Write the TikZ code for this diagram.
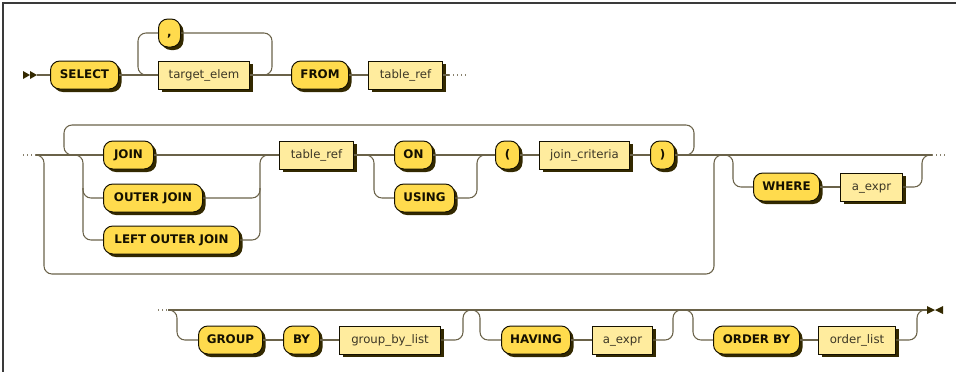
\documentclass[tikz,border=0pt]{standalone}
\usepackage{fontspec}
\setsansfont{DejaVu Sans}
\usetikzlibrary{shadows}
\definecolor{termfill}{HTML}{FFDB4D}
\definecolor{ntfill}{HTML}{FFEC9E}
\definecolor{edgec}{HTML}{141000}
\definecolor{shadec}{HTML}{332900}
\definecolor{railc}{HTML}{6A6249}
\definecolor{ntextc}{HTML}{3C3726}
\definecolor{framec}{HTML}{3A3A3A}

\begin{document}
\begin{tikzpicture}[x=0.75pt,y=-0.75pt,
  box/.style={draw=edgec, line width=0.75pt, minimum height=21pt, inner sep=0pt,
    anchor=west, text height=6.5pt, text depth=1.8pt,
    drop shadow={shadow xshift=2.25pt, shadow yshift=-2.25pt, fill=shadec, opacity=1}},
  w/.style={minimum width=#1*0.75pt},
  term/.style={box, fill=termfill, rounded corners=7pt,
    font=\sffamily\bfseries\fontsize{8.9}{10}\selectfont, text=edgec},
  nt/.style={box, fill=ntfill, font=\sffamily\fontsize{8.8}{10}\selectfont, text=ntextc},
  railp/.style={draw=railc, line width=0.8pt, rounded corners=6pt},
  dotted rail/.style={draw=railc!80, line width=0.8pt, dash pattern=on 0.75pt off 2.25pt},
  endmark/.style={fill=shadec}
]
\useasboundingbox (0,0) rectangle (956,372);

% frame
\draw[framec, line width=1.1pt] (956,3) -- (3,3) -- (3,372);

% ---------- first line ----------
\node[term,w=68] (select) at (50,75) {SELECT};
\node[term,w=22] (comma) at (158,33) {,};
\node[nt,w=91] (target) at (158,75) {target\_elem};
\node[term,w=57] (from) at (291,75) {FROM};
\node[nt,w=74] (tref1) at (368,75) {table\_ref};

\coordinate (start) at (37,75);
\coordinate (out1) at (449,75);
\fill[endmark] (23,71) -- (30,75) -- (23,79) -- cycle;
\fill[endmark] (30,71) -- (37,75) -- (30,79) -- cycle;

\draw[railp] (start) -- (select.west);
\draw[railp] (select.east) -- (target.west);
\draw[railp] (target.east) -- (from.west);
\draw[railp] (from.east) -- (tref1.west);
\draw[railp] (tref1.east) -- (out1);
\draw[dotted rail] (out1) -- (466,75);
\draw[railp] (target.east) -- (272,75) -- (272,33) -- (comma.east);
\draw[railp] (comma.west) -- (138,33) -- (138,75) -- (target.west);

% ---------- second line ----------
\node[term,w=50] (join) at (103,155) {JOIN};
\node[term,w=99] (ojoin) at (103,198) {OUTER JOIN};
\node[term,w=136] (lojoin) at (103,240) {LEFT OUTER JOIN};
\node[nt,w=74] (tref2) at (279,155) {table\_ref};
\node[term,w=38] (on) at (394,155) {ON};
\node[term,w=60] (using) at (394,198) {USING};
\node[term,w=24] (lp) at (495,155) {(};
\node[nt,w=90] (crit) at (539,155) {join\_criteria};
\node[term,w=24] (rp) at (650,155) {)};
\node[term,w=66] (where) at (753,187) {WHERE};
\node[nt,w=62] (aexpr1) at (840,187) {a\_expr};

\coordinate (in2) at (36,155);
\coordinate (out2) at (932,155);

\draw[dotted rail] (23,155) -- (in2);
\draw[railp] (in2) -- (join.west);
\draw[railp] (join.east) -- (tref2.west);
\draw[railp] (tref2.east) -- (on.west);
\draw[railp] (on.east) -- (lp.west);
\draw[railp] (lp.east) -- (crit.west);
\draw[railp] (crit.east) -- (rp.west);
\draw[railp] (rp.east) -- (out2);
\draw[dotted rail] (out2) -- (945,155);

% join keyword choice
\draw[railp] (73,155) -- (83,155) -- (83,240) -- (lojoin.west);
\draw[railp] (83,188) -- (83,198) -- (ojoin.west);
\draw[railp] (lojoin.east) -- (260,240) -- (260,155) -- (tref2.west);
\draw[railp] (ojoin.east) -- (260,198) -- (260,188);

% ON / USING choice
\draw[railp] (tref2.east) -- (374,155) -- (374,198) -- (using.west);
\draw[railp] (using.east) -- (477,198) -- (477,155) -- (lp.west);

% repetition of join clauses
\draw[railp] (rp.east) -- (694,155) -- (694,125) -- (64,125) -- (64,155) -- (join.west);

% skip of all join clauses
\draw[railp] (in2) -- (44,155) -- (44,274) -- (714,274) -- (714,155) -- (724,155);

% optional WHERE
\draw[railp] (724,155) -- (733,155) -- (733,187) -- (where.west);
\draw[railp] (where.east) -- (aexpr1.west);
\draw[railp] (aexpr1.east) -- (922,187) -- (922,155) -- (out2);

% ---------- third line ----------
\node[term,w=64] (group) at (198,340) {GROUP};
\node[term,w=36] (by) at (283,340) {BY};
\node[nt,w=101] (gblist) at (339,340) {group\_by\_list};
\node[term,w=69] (having) at (501,340) {HAVING};
\node[nt,w=60] (aexpr2) at (592,340) {a\_expr};
\node[term,w=86] (order) at (713,340) {ORDER BY};
\node[nt,w=77] (olist) at (818,340) {order\_list};

\coordinate (in3) at (168,310);
\coordinate (stop) at (927,310);

\draw[dotted rail] (158,310) -- (in3);
\draw[railp] (in3) -- (stop);

\draw[railp] (in3) -- (177,310) -- (177,340) -- (group.west);
\draw[railp] (group.east) -- (by.west);
\draw[railp] (by.east) -- (gblist.west);
\draw[railp] (gblist.east) -- (463,340) -- (463,310) -- (472,310);

\draw[railp] (471,310) -- (480,310) -- (480,340) -- (having.west);
\draw[railp] (having.east) -- (aexpr2.west);
\draw[railp] (aexpr2.east) -- (673,340) -- (673,310) -- (683,310);

\draw[railp] (684,310) -- (693,310) -- (693,340) -- (order.west);
\draw[railp] (order.east) -- (olist.west);
\draw[railp] (olist.east) -- (917,340) -- (917,310) -- (stop);

\fill[endmark] (927,306) -- (935,310) -- (927,314) -- cycle;
\fill[endmark] (943,306) -- (935,310) -- (943,314) -- cycle;
\end{tikzpicture}
\end{document}
